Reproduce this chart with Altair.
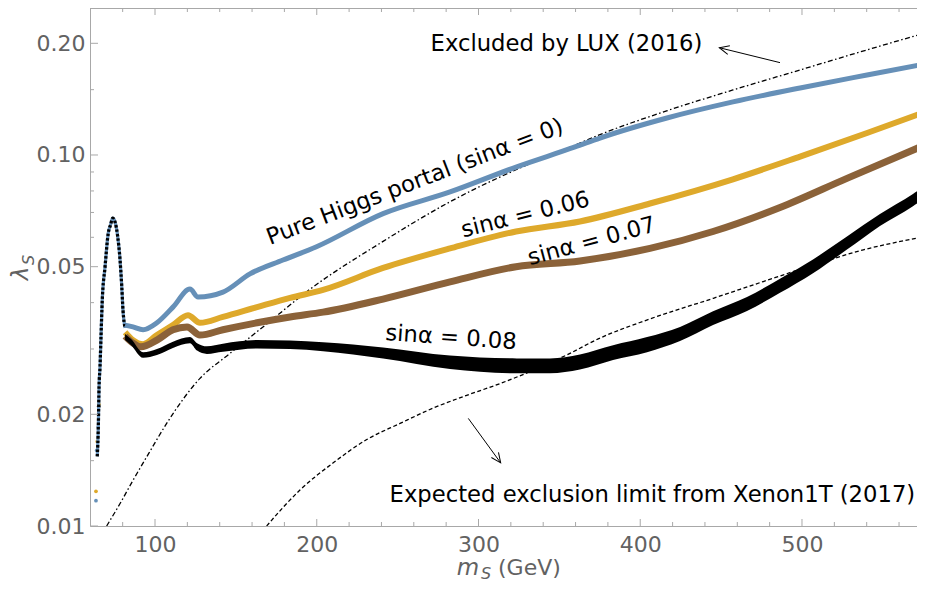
import altair as alt
import pandas as pd

# ---------------- data ----------------
# shared resonance spike (all four scans coincide here)
spike_m = [64.3, 65.0, 65.4, 66.0, 66.6, 67.4, 69.1, 71.1, 72.5, 73.85, 75.3, 76.8, 78.4, 79.4, 80.2, 81.5]
spike_v = [0.0154, 0.0189, 0.0237, 0.0268, 0.0323, 0.0407, 0.0499, 0.0616, 0.0648, 0.0676, 0.0660,
           0.0609, 0.0521, 0.0446, 0.0382, 0.0342]

# sparse scan points at the foot of the spike
tail_series = ["blue", "gold", "gold", "blue", "gold", "black", "blue"]
tail_m = [63.5, 63.5, 64.3, 64.0, 65.3, 65.2, 64.9]
tail_v = [0.0117, 0.0124, 0.0169, 0.0160, 0.0213, 0.0210, 0.0185]

# Pure Higgs portal (sin a = 0)
blue_m = [81.5, 86.4, 92.6, 101.2, 111.1, 121.6, 126.6, 142.0, 158.7, 179.1, 199.5, 241.0, 282.4,
          323.2, 359.7, 375.1, 416.5, 457.3, 498.8, 540.2, 576.0]
blue_v = [0.0348, 0.0344, 0.0338, 0.0353, 0.0389, 0.0435, 0.0414, 0.0427, 0.0478, 0.0521, 0.0565,
          0.0695, 0.0795, 0.0928, 0.1051, 0.1111, 0.1258, 0.1390, 0.1516, 0.1643, 0.1759]

# sin a = 0.06
gold_m = [81.5, 86.4, 92.6, 101.2, 111.1, 120.4, 127.8, 142.0, 163.1, 183.5, 203.9, 241.0, 282.4,
          323.2, 362.7, 406.0, 457.3, 498.8, 540.2, 576.0]
gold_v = [0.0333, 0.0317, 0.0309, 0.0327, 0.0348, 0.0370, 0.0353, 0.0366, 0.0389, 0.0412, 0.0433,
          0.0496, 0.0560, 0.0622, 0.0662, 0.0740, 0.0860, 0.0990, 0.1146, 0.1306]

# sin a = 0.07
brown_m = [81.5, 86.4, 91.3, 101.2, 111.1, 119.8, 127.8, 142.0, 163.1, 183.5, 203.9, 241.0, 282.4,
           323.2, 362.7, 406.0, 445.0, 486.4, 527.8, 576.0]
brown_v = [0.0325, 0.0311, 0.0304, 0.0317, 0.0338, 0.0344, 0.0327, 0.0338, 0.0353, 0.0366, 0.0377,
           0.0409, 0.0455, 0.0500, 0.0518, 0.0560, 0.0622, 0.0722, 0.0865, 0.1064]

# sin a = 0.08 (wide scatter band: lower / upper edge)
black_m = [81.5, 85.2, 92.6, 101.2, 111.1, 121.6, 126.0, 132.1, 142.0, 163.1, 183.5, 203.9, 241.0,
           282.4, 323.8, 344.2, 362.7, 383.2, 404.2, 424.6, 445.0, 466.0, 486.4, 506.8, 527.8,
           548.2, 568.6, 576.0]
black_lo = [0.0317, 0.0307, 0.0284, 0.0289, 0.0302, 0.0311, 0.0297, 0.0291, 0.0295, 0.0301, 0.0300,
            0.0296, 0.0283, 0.0265, 0.0258, 0.0258, 0.0264, 0.0280, 0.0294, 0.0315, 0.0348, 0.0380,
            0.0425, 0.0480, 0.0556, 0.0644, 0.0728, 0.0766]
black_hi = [0.0329, 0.0319, 0.0294, 0.0300, 0.0314, 0.0323, 0.0311, 0.0305, 0.0310, 0.0317, 0.0316,
            0.0313, 0.0303, 0.0288, 0.0283, 0.0283, 0.0290, 0.0307, 0.0323, 0.0344, 0.0379, 0.0414,
            0.0464, 0.0523, 0.0603, 0.0693, 0.0785, 0.0825]

# LUX (2016) exclusion
lux_m = [70.1, 78.4, 86.5, 96.9, 107.2, 127.8, 146.4, 173.1, 193.8, 241.0, 282.4, 333.7, 354.5,
         375.1, 416.3, 457.3, 498.8, 540.0, 576.0]
lux_v = [0.0100, 0.0115, 0.0133, 0.0159, 0.0189, 0.0250, 0.0292, 0.0362, 0.0428, 0.0585, 0.0748,
         0.0955, 0.1040, 0.1135, 0.1315, 0.1497, 0.1695, 0.1919, 0.2132]

# Xenon1T (2017) expected limit
xen_m = [169.0, 189.6, 210.2, 230.9, 251.5, 272.1, 292.7, 313.3, 333.9, 354.5, 375.1, 404.0, 445.2,
         476.1, 507.0, 537.9, 576.0]
xen_v = [0.0100, 0.0125, 0.0148, 0.0171, 0.0189, 0.0208, 0.0225, 0.0242, 0.0263, 0.0289, 0.0321,
         0.0359, 0.0411, 0.0456, 0.0505, 0.0555, 0.0602]

# annotation arrows (tail -> tip)
lux_arrow = dict(m=[486.4], v=[0.1774], m2=[448.9], v2=[0.1946])
xen_arrow = dict(m=[293.7], v=[0.0195], m2=[313.7], v2=[0.0148])

# annotation texts and anchors (data coordinates)
lbl_pure = ("Pure Higgs portal (sinα = 0)", 260.7, 0.0846)
lbl_06 = ("sinα = 0.06", 329.0, 0.0690)
lbl_07 = ("sinα = 0.07", 370.0, 0.0585)
lbl_08 = ("sinα = 0.08", 283.0, 0.0322)
lbl_lux = ("Excluded by LUX (2016)", 354.4, 0.1995)
lbl_xen = ("Expected exclusion limit from Xenon1T (2017)", 407.5, 0.0121)

# axis ticks
x_major = [100, 200, 300, 400, 500]
x_minor = [80, 120, 140, 160, 180, 220, 240, 260, 280, 320, 340, 360, 380, 420, 440, 460, 480,
           520, 540, 560]
y_major = [0.01, 0.02, 0.05, 0.1, 0.2]
y_minor = [0.015, 0.03, 0.04, 0.06, 0.07, 0.08, 0.09, 0.15]

# ---------------- styling ----------------
W, H = 827, 518
X_DOMAIN = [59.81, 571.1]
Y_DOMAIN = [0.01, 0.249]
FONT = "DejaVu Sans"
GREY = "#626262"
FRAME = "#a8a8a8"
C_BLUE, C_GOLD, C_BROWN, C_BLACK = "#6690b8", "#dea92b", "#8b6239", "#000000"
ANN = 22.7

xs = alt.Scale(domain=X_DOMAIN, nice=False, zero=False)
ys = alt.Scale(type="log", domain=Y_DOMAIN, nice=False)

X_AXIS = alt.Axis(values=x_major, format="d", tickSize=0, labelPadding=8,
                  labelFont=FONT, labelFontSize=22, labelColor=GREY,
                  domainColor=FRAME, grid=False, title=None)
Y_AXIS = alt.Axis(values=y_major, format=".2f", tickSize=0, labelPadding=5,
                  labelFont=FONT, labelFontSize=22, labelColor=GREY,
                  domainColor=FRAME, grid=False, title=None)


def X(f="m"):
    return alt.X(f"{f}:Q", scale=xs, axis=X_AXIS)


def Y(f="v"):
    return alt.Y(f"{f}:Q", scale=ys, axis=Y_AXIS)


def df(**cols):
    return pd.DataFrame(cols)


one = pd.DataFrame({"k": [0]})

lux = alt.Chart(df(m=lux_m, v=lux_v)).mark_line(
    color="black", strokeWidth=1.3, strokeDash=[5, 2.5, 1.5, 2.5], interpolate="monotone", clip=True
).encode(x=X(), y=Y())

xen = alt.Chart(df(m=xen_m, v=xen_v)).mark_line(
    color="black", strokeWidth=1.3, strokeDash=[4, 2.5], interpolate="monotone", clip=True
).encode(x=X(), y=Y())

tail = alt.Chart(df(m=tail_m, v=tail_v, s=tail_series)).mark_circle(size=14, opacity=1).encode(
    x=X(), y=Y(),
    color=alt.Color("s:N", scale=alt.Scale(domain=["blue", "gold", "brown", "black"],
                                           range=[C_BLUE, C_GOLD, C_BROWN, C_BLACK]), legend=None),
)

spike_df = df(m=spike_m, v=spike_v)
spike_base = alt.Chart(spike_df).mark_line(color=C_BLUE, strokeWidth=3.2, interpolate="monotone").encode(
    x=X(), y=Y())
spike_top = alt.Chart(spike_df).mark_line(color="black", strokeWidth=3.2, strokeDash=[2.5, 2],
                                          interpolate="monotone").encode(x=X(), y=Y())

blue = alt.Chart(df(m=blue_m, v=blue_v)).mark_line(
    color=C_BLUE, strokeWidth=5, interpolate="monotone", clip=True).encode(x=X(), y=Y())
gold = alt.Chart(df(m=gold_m, v=gold_v)).mark_line(
    color=C_GOLD, strokeWidth=6, interpolate="monotone", clip=True).encode(x=X(), y=Y())
brown = alt.Chart(df(m=brown_m, v=brown_v)).mark_line(
    color=C_BROWN, strokeWidth=7, interpolate="monotone", clip=True).encode(x=X(), y=Y())
black = alt.Chart(df(m=black_m, lo=black_lo, hi=black_hi)).mark_area(
    color=C_BLACK, interpolate="monotone", clip=True).encode(x=X(), y=Y("lo"), y2=alt.Y2("hi:Q"))


def label(spec, angle):
    t, m, v = spec
    return alt.Chart(df(t=[t], m=[m], v=[v])).mark_text(
        font=FONT, fontSize=ANN, color="black", angle=angle, align="center", baseline="middle"
    ).encode(x=X(), y=Y(), text="t:N")


labels = [label(lbl_pure, 339), label(lbl_06, 346), label(lbl_07, 345), label(lbl_08, 4),
          label(lbl_lux, 0), label(lbl_xen, 0)]


def arrow(a, angle):
    shaft = alt.Chart(df(**a)).mark_rule(color="black", strokeWidth=1).encode(
        x=X(), y=Y(), x2=alt.X2("m2:Q"), y2=alt.Y2("v2:Q"))
    head = alt.Chart(df(m=a["m2"], v=a["v2"])).mark_point(
        shape="M-1,-0.45L0,0L-1,0.45", size=380, angle=angle, filled=False, stroke="black",
        strokeWidth=1, opacity=1).encode(x=X(), y=Y())
    return [shaft, head]


arrows = arrow(lux_arrow, 194) + arrow(xen_arrow, 54)


# inward tick marks on left, bottom and top frame
def yticks(vals, length):
    return alt.Chart(df(v=vals)).mark_rule(color=FRAME, strokeWidth=1).encode(
        y=Y(), x=alt.value(0), x2=alt.value(length))


def xticks(vals, y0, y1):
    return alt.Chart(df(m=vals)).mark_rule(color=FRAME, strokeWidth=1).encode(
        x=X(), y=alt.value(y0), y2=alt.value(y1))


ticks = [yticks(y_major, 8), yticks(y_minor, 4),
         xticks(x_major, H, H - 7), xticks(x_minor, H, H - 4),
         xticks(x_major, 0, 7), xticks(x_minor, 0, 4)]

top_frame = alt.Chart(one).mark_rule(color=FRAME, strokeWidth=1).encode(
    x=alt.value(0), x2=alt.value(W), y=alt.value(0.5))


# axis titles
def title_text(txt, x, y, size, italic, angle=0, align="center", baseline="alphabetic"):
    kw = dict(font=FONT, fontSize=size, color=GREY, align=align, baseline=baseline)
    if italic:
        kw["fontStyle"] = "italic"
    if angle:
        kw["angle"] = angle
    return alt.Chart(one).mark_text(**kw).encode(x=alt.value(x), y=alt.value(y), text=alt.value(txt))


titles = [
    title_text("λ", -69.0, 265.5, 23, True, angle=270, baseline="middle"),
    title_text("S", -61.0, 252, 16, True, angle=270, baseline="middle"),
    title_text("m", 378, 567, 23, True),
    title_text("S", 396, 571, 16, True),
    title_text("(GeV)", 408, 567, 22, False, align="left"),
]

chart = alt.layer(
    lux, xen, tail, spike_base, spike_top, blue, gold, brown, black,
    *labels, *arrows, *ticks, top_frame, *titles
).properties(
    width=W, height=H,
    padding={"left": 82, "top": 0, "right": 0, "bottom": 58},
    autosize=alt.AutoSizeParams(type="none"),
    background="white",
).configure_view(stroke=None)

chart.save("out.html", embed_options={"renderer": "svg", "actions": False})
